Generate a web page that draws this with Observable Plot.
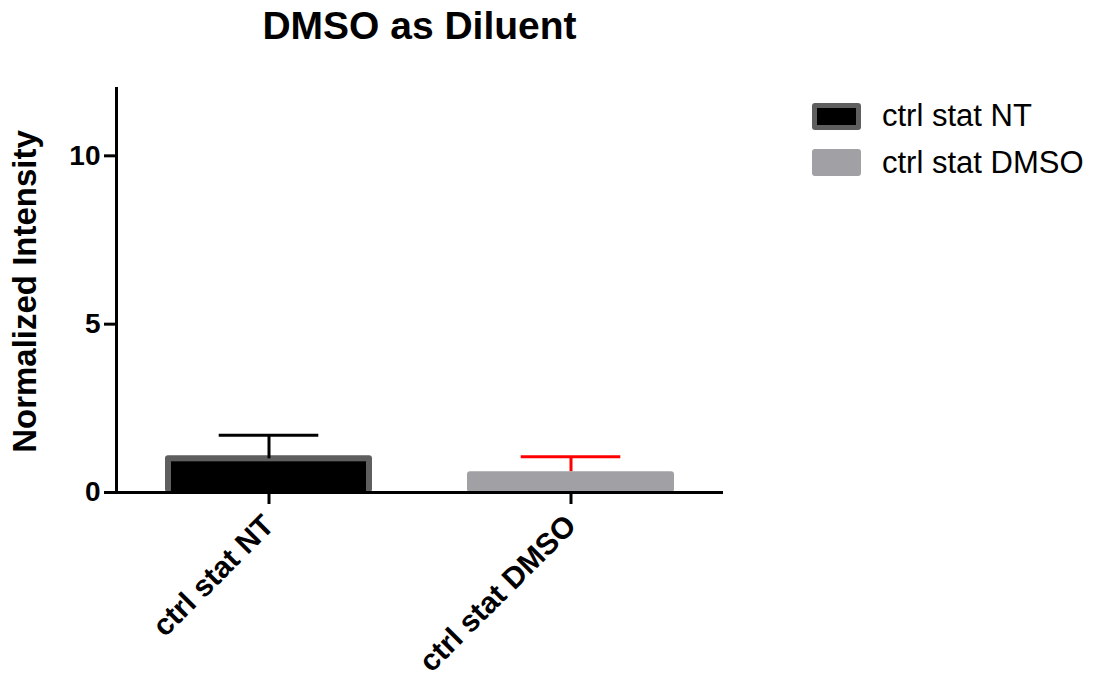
<!DOCTYPE html>
<html>
<head>
<meta charset="utf-8">
<script src="https://cdn.jsdelivr.net/npm/d3@7"></script>
<script src="https://cdn.jsdelivr.net/npm/@observablehq/plot@0.6"></script>
<style>
  body { margin: 0; background: #fff; }
  #wrap { position: relative; width: 1099px; height: 681px; font-family: "Liberation Sans", Arial, sans-serif; color: #000; }
  #title { position: absolute; left: 0; width: 839px; top: 6px; text-align: center; font-weight: bold; font-size: 39px; line-height: 39px; white-space: nowrap; }
  .sw { position: absolute; left: 812px; width: 49px; height: 27px; box-sizing: border-box; border-radius: 3px; }
  .lt { position: absolute; left: 882px; font-size: 31px; line-height: 31px; white-space: nowrap; }
  #chart { position: absolute; left: 0; top: 0; }
</style>
</head>
<body>
<div id="wrap">
  <div id="chart"></div>
  <div id="title"></div>
  <div id="legend"></div>
</div>
<script>
// ---- data ----
const chartTitle = "DMSO as Diluent";
const yLabel = "Normalized Intensity";
const categories = ["ctrl stat NT", "ctrl stat DMSO"];
const means = [1.0, 0.62];
const sds = [0.70, 0.44];
const yTicks = [0, 5, 10];
const fillColors = ["#000000", "#a1a0a5"];
const borderColors = ["#5f5f5f", "none"];
const errorColors = ["#000000", "#ff0000"];

const rows = categories.map((c, i) => ({
  cat: c, mean: means[i], hi: means[i] + sds[i], err: errorColors[i]
}));

const FONT = "Liberation Sans, Arial, sans-serif";

const plot = Plot.plot({
  width: 1099,
  height: 681,
  marginLeft: 116,
  marginRight: 376,
  marginTop: 88,
  marginBottom: 189,
  style: { fontFamily: FONT, background: "transparent", color: "#000", overflow: "visible" },
  x: { domain: categories, paddingInner: 0.315, paddingOuter: 0.16, align: 0.5 },
  y: { domain: [0, 12] },
  color: { type: "identity" },
  marks: [
    // bordered bar: outer border colour, then inner fill
    Plot.barY([rows[0]], { x: "cat", y: "mean", fill: borderColors[0], insetTop: -3, rx: 3 }),
    Plot.barY([rows[0]], { x: "cat", y: "mean", fill: fillColors[0], insetTop: 3, insetLeft: 6, insetRight: 6 }),
    Plot.barY([rows[1]], { x: "cat", y: "mean", fill: fillColors[1], rx: 3 }),
    Plot.ruleX(rows, { x: "cat", y1: "mean", y2: "hi", stroke: "err", strokeWidth: 3 }),
    Plot.tickY(rows, { x: "cat", y: "hi", stroke: "err", strokeWidth: 3, insetLeft: 53.7, insetRight: 53.7 }),
    Plot.axisY({ ticks: yTicks, tickSize: 12, tickPadding: 4, strokeWidth: 3, fontSize: 28, fontWeight: "bold", label: null }),
    Plot.text([yLabel], { frameAnchor: "left", rotate: -90, dx: -104, dy: 1, lineAnchor: "top", textAnchor: "middle",
      fontSize: 33, fontWeight: "bold", fill: "#000" }),
    Plot.axisX({ tickSize: 12, tickPadding: 16, strokeWidth: 3, fontSize: 30, fontWeight: "bold", tickRotate: -45, label: null }),
    Plot.frame({ anchor: "left", strokeWidth: 3, stroke: "#000" }),
    Plot.ruleY([0], { stroke: "#000", strokeWidth: 3 })
  ]
});
document.getElementById("chart").appendChild(plot);

document.getElementById("title").textContent = chartTitle;

// legend
const legend = document.getElementById("legend");
const swTops = [103, 149];
const textTops = [100, 147];
categories.forEach((c, i) => {
  const sw = document.createElement("div");
  sw.className = "sw";
  sw.style.top = swTops[i] + "px";
  sw.style.background = fillColors[i];
  if (borderColors[i] !== "none") sw.style.border = "5px solid " + borderColors[i];
  legend.appendChild(sw);
  const t = document.createElement("div");
  t.className = "lt";
  t.style.top = textTops[i] + "px";
  t.textContent = c;
  legend.appendChild(t);
});
</script>
</body>
</html>
